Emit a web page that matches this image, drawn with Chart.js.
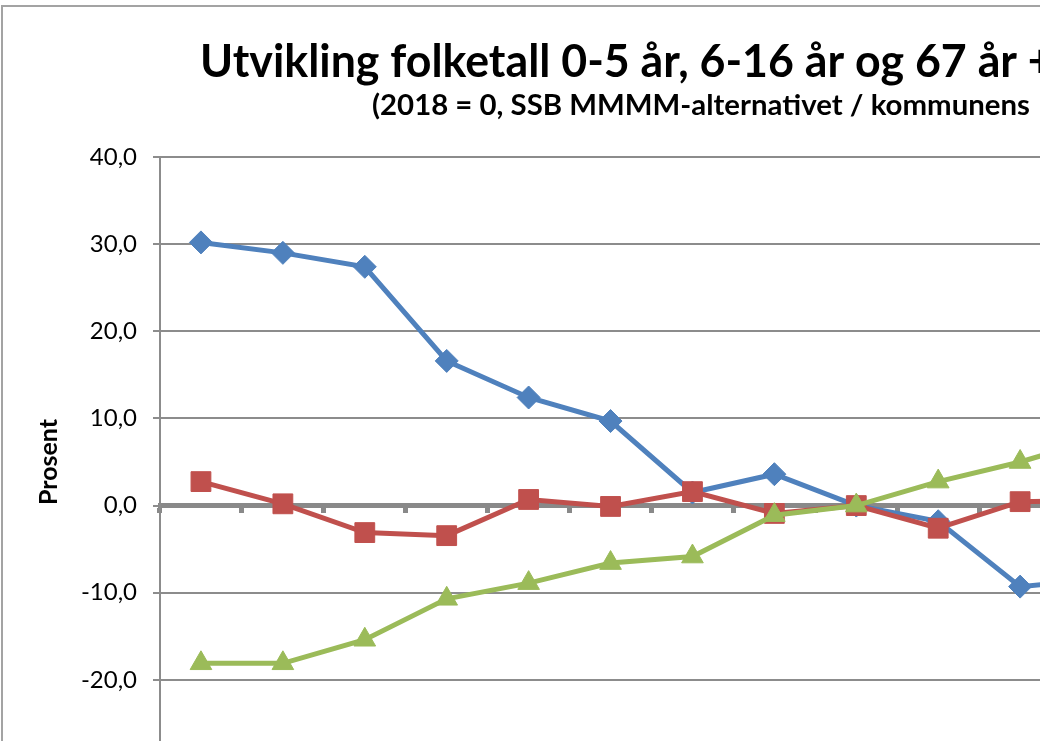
<!DOCTYPE html>
<html><head><meta charset="utf-8">
<script src="https://cdn.jsdelivr.net/npm/chart.js@4/dist/chart.umd.min.js"></script>
<style>
html,body{margin:0;padding:0;overflow:hidden;background:#fff;width:1040px;height:741px}
canvas{display:block}
</style></head>
<body><canvas id="c" width="1158" height="800"></canvas>
<script>
const categories = ['2010','2011','2012','2013','2014','2015','2016','2017','2018','2019','2020','2021'];
const seriesNames = ['0-5 år','6-16 år','67 år +'];
const age0to5   = [30.2, 29.0, 27.4, 16.6, 12.4, 9.7, 1.5, 3.6, 0, -1.8, -9.3, -8.4];
const age6to16  = [2.75, 0.2, -3.1, -3.45, 0.7, -0.1, 1.6, -0.9, 0, -2.6, 0.45, 0.6];
const age67plus = [-18.1, -18.1, -15.4, -10.7, -8.9, -6.6, -5.85, -1.1, 0, 2.75, 5.0, 7.8];
const yTicks = {min: -30, max: 40, step: 10};
const titleText = 'Utvikling folketall 0-5 år, 6-16 år og 67 år +';
const titleFitPart = 'Utvikling folketall 0-5 år, 6-16 år og 67 år';
const subtitleText = '(2018 = 0, SSB MMMM-alternativet / kommunens';
const axisTitle = 'Prosent';

function drawFitted(ctx, text, fitPart, font, x, y, xEnd) {
  ctx.save();
  ctx.font = font;
  const w = ctx.measureText(fitPart).width;
  const sx = (xEnd - x) / w;
  ctx.translate(x, y);
  ctx.scale(sx, 1);
  ctx.fillStyle = '#000';
  ctx.textBaseline = 'alphabetic';
  ctx.textAlign = 'left';
  ctx.fillText(text, 0, 0);
  ctx.restore();
}

const framePlugin = {
  id: 'frame',
  beforeDraw(chart) {
    const ctx = chart.ctx;
    ctx.save();
    ctx.fillStyle = '#fff';
    ctx.fillRect(0, 0, chart.width, chart.height);
    ctx.strokeStyle = '#a3a3a3';
    ctx.lineWidth = 2;
    ctx.strokeRect(2, 6, chart.width + 20, chart.height + 20);
    ctx.restore();
  },
  afterDraw(chart) {
    const ctx = chart.ctx;
    drawFitted(ctx, titleText, titleFitPart, 'bold 46px Lato', 200, 77, 1017);
    drawFitted(ctx, subtitleText, subtitleText, 'bold 28px Lato', 372, 115, 1030);
  }
};

const gridGray = '#8c8c8c';
const axisGray = '#898989';

new Chart(document.getElementById('c'), {
  type: 'line',
  data: {
    labels: categories,
    datasets: [
      {label: seriesNames[0], data: age0to5, borderColor: '#4F81BD', backgroundColor: '#4F81BD',
       pointStyle: 'rectRot', pointRadius: 11.5, borderWidth: 5, pointBorderWidth: 1, order: 3},
      {label: seriesNames[1], data: age6to16, borderColor: '#C0504D', backgroundColor: '#C0504D',
       pointStyle: 'rect', pointRadius: 14, borderWidth: 5, pointBorderWidth: 1, order: 2},
      {label: seriesNames[2], data: age67plus, borderColor: '#9BBB59', backgroundColor: '#9BBB59',
       pointStyle: 'triangle', pointRadius: 12.5, borderWidth: 5, pointBorderWidth: 1, order: 1}
    ]
  },
  options: {
    responsive: false,
    animation: false,
    events: [],
    layout: {padding: {top: 157, bottom: 33, left: 0, right: 0}},
    elements: {line: {tension: 0}},
    plugins: {legend: {display: false}, tooltip: {enabled: false}, title: {display: false}},
    scales: {
      x: {
        type: 'category',
        offset: true,
        position: {y: 0},
        ticks: {display: false},
        grid: {display: true, offset: true, drawOnChartArea: false, drawTicks: true,
               tickLength: 5, tickWidth: 5, tickColor: axisGray},
        border: {display: true, color: axisGray, width: 5},
        afterFit(s) { s.height = 0; }
      },
      y: {
        min: yTicks.min, max: yTicks.max,
        ticks: {stepSize: yTicks.step, color: '#000', padding: 16,
                font: {family: 'Lato', size: 24},
                callback: v => v.toFixed(1).replace('.', ',')},
        grid: {color: gridGray, lineWidth: 2, tickLength: 7, tickColor: gridGray},
        border: {display: true, color: gridGray, width: 2},
        title: {display: true, text: axisTitle, color: '#000',
                font: {family: 'Lato', size: 25, weight: 'bold'}, padding: {top: 34, bottom: 0}},
        afterFit(s) { s.width = 160; }
      }
    }
  },
  plugins: [framePlugin]
});
</script>
</body></html>
